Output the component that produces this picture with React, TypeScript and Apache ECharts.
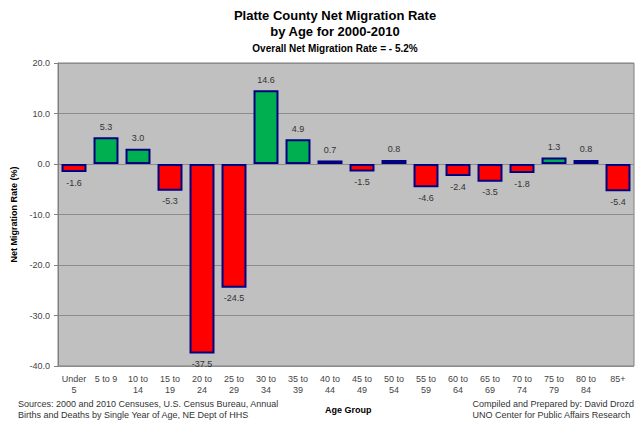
import React, { useEffect, useRef } from "react";
import * as echarts from "echarts";

const categories = ["Under\n5", "5 to 9", "10 to\n14", "15 to\n19", "20 to\n24", "25 to\n29", "30 to\n34", "35 to\n39", "40 to\n44", "45 to\n49", "50 to\n54", "55 to\n59", "60 to\n64", "65 to\n69", "70 to\n74", "75 to\n79", "80 to\n84", "85+"];
const rates = [-1.6, 5.3, 3.0, -5.3, -37.5, -24.5, 14.6, 4.9, 0.7, -1.5, 0.8, -4.6, -2.4, -3.5, -1.8, 1.3, 0.8, -5.4];
const titleLines = "Platte County Net Migration Rate\nby Age for 2000-2010";
const subtitle = "Overall Net Migration Rate = - 5.2%";
const sourceText = "Sources: 2000 and 2010 Censuses, U.S. Census Bureau, Annual\nBirths and Deaths by Single Year of Age, NE Dept of HHS";
const creditText = "Compiled and Prepared by: David Drozd\nUNO Center for Public Affairs Research";

export default function App() {
  const ref = useRef<HTMLDivElement>(null);
  useEffect(() => {
    const chart = echarts.init(ref.current!, null, { renderer: "svg" });
    const font = "'Liberation Sans', Arial, sans-serif";
    chart.setOption({
      animation: false,
      backgroundColor: "#ffffff",
      title: [
        {
          text: titleLines,
          left: 330,
          textAlign: "center",
          top: 2,
          textStyle: { fontFamily: font, fontSize: 13, fontWeight: "bold", color: "#000", lineHeight: 16 },
        },
        {
          text: subtitle,
          left: 330,
          textAlign: "center",
          top: 38,
          textStyle: { fontFamily: font, fontSize: 10, fontWeight: "bold", color: "#000" },
        },
      ],
      grid: { left: 58, right: 3, top: 63, bottom: 56 },
      xAxis: {
        type: "category",
        data: categories,
        axisLine: { show: false },
        axisTick: { show: false },
        axisLabel: { interval: 0, fontFamily: font, fontSize: 9, color: "#444", lineHeight: 11, margin: 7 },
      },
      yAxis: {
        type: "value",
        min: -40,
        max: 20,
        interval: 10,
        name: "Net Migration Rate (%)",
        nameLocation: "middle",
        nameGap: 35,
        nameTextStyle: { fontFamily: font, fontSize: 9, fontWeight: "bold", color: "#000" },
        axisLine: { show: true, lineStyle: { color: "#808080", width: 1 } },
        axisTick: { show: true, length: 4, lineStyle: { color: "#808080" } },
        axisLabel: { fontFamily: font, fontSize: 9, color: "#444", formatter: (v: number) => v.toFixed(1), margin: 8 },
        splitLine: { show: true, lineStyle: { color: "#8c8c8c", width: 1 } },
        splitArea: { show: false },
      },
      graphic: [
        {
          type: "rect",
          shape: { x: 58, y: 63, width: 576, height: 303 },
          style: { fill: "#c0c0c0", stroke: "#808080", lineWidth: 1 },
          z: -10,
          silent: true,
        },
        {
          type: "text",
          left: 18,
          top: 398,
          style: { text: sourceText, fontFamily: font, fontSize: 9, fill: "#333", lineHeight: 11 },
        },
        {
          type: "text",
          left: 325,
          top: 405,
          style: { text: "Age Group", fontFamily: font, fontSize: 9, fontWeight: "bold", fill: "#000" },
        },
        {
          type: "text",
          right: 3,
          top: 398,
          style: { text: creditText, fontFamily: font, fontSize: 9, fill: "#333", lineHeight: 11, align: "right" },
        },
      ],
      series: [
        {
          type: "bar",
          barCategoryGap: "22%",
          data: rates.map((v) => ({
            value: v,
            itemStyle: { color: v >= 0 ? "#00b050" : "#ff0000", borderColor: "#000080", borderWidth: 2 },
            label: { position: v >= 0 ? "top" : "bottom" },
          })),
          label: {
            show: true,
            fontFamily: font,
            fontSize: 9,
            color: "#333",
            distance: 6,
            formatter: (p: any) => Number(p.value).toFixed(1),
          },
        },
      ],
    });
    return () => chart.dispose();
  }, []);
  return <div ref={ref} style={{ position: "absolute", left: 0, top: 0, width: 637, height: 422 }} />;
}
